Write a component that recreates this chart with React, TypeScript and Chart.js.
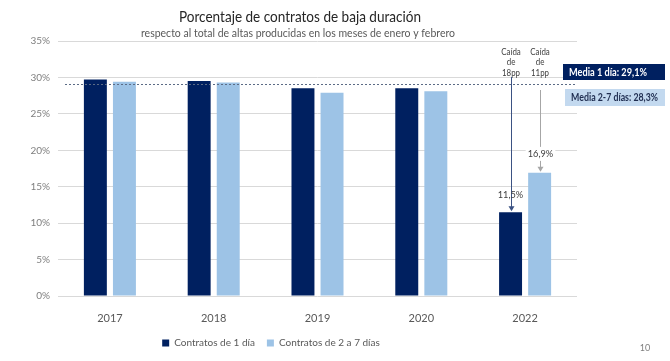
import React, { useEffect, useRef } from 'react';
import { Chart, registerables } from 'chart.js';

Chart.register(...registerables);

const years = ['2017', '2018', '2019', '2020', '2022'];
const contratos1Dia = [29.7, 29.5, 28.5, 28.5, 11.5];
const contratos2a7Dias = [29.4, 29.3, 27.9, 28.1, 16.9];
const seriesNames = ['Contratos de 1 día', 'Contratos de 2 a 7 días'];
const mediaValues = [29.1, 28.3];
const mediaLabels = ['Media 1 día: 29,1%', 'Media 2-7 días: 28,3%'];
const caidaLabels = [['Caída', 'de', '18pp'], ['Caída', 'de', '11pp']];
const valueLabels = ['11,5%', '16,9%'];
const titleText = 'Porcentaje de contratos de baja duración';
const subtitleText = 'respecto al total de altas producidas en los meses de enero y febrero';
const pageNumber = '10';

const DARK = '#002060';
const LIGHT = '#9dc3e6';
const FONT = 'Lato, "Open Sans", sans-serif';

function fitText(ctx: CanvasRenderingContext2D, text: string, x: number, y: number, width: number, align: 'left' | 'center') {
  const w = ctx.measureText(text).width;
  const sx = Math.min(1, width / w);
  ctx.save();
  ctx.translate(x, y);
  ctx.scale(sx, 1);
  ctx.textAlign = align;
  ctx.fillText(text, 0, 0);
  ctx.restore();
}

function arrow(ctx: CanvasRenderingContext2D, x: number, y0: number, y1: number, color: string) {
  ctx.save();
  ctx.strokeStyle = color;
  ctx.fillStyle = color;
  ctx.lineWidth = 1;
  ctx.beginPath();
  ctx.moveTo(x, y0);
  ctx.lineTo(x, y1 - 4);
  ctx.stroke();
  ctx.beginPath();
  ctx.moveTo(x - 3, y1 - 5);
  ctx.lineTo(x + 3, y1 - 5);
  ctx.lineTo(x, y1);
  ctx.closePath();
  ctx.fill();
  ctx.restore();
}

const annotations = {
  id: 'annotations',
  afterLayout(chart: any) {
    if (chart.legend) {
      chart.legend.left = 0;
      chart.legend.right = 542;
    }
  },
  afterDatasetsDraw(chart: any) {
    const ctx: CanvasRenderingContext2D = chart.ctx;
    const y = chart.scales.y;
    const area = chart.chartArea;
    const ym = Math.round(y.getPixelForValue(mediaValues[0])) + 0.5;
    ctx.save();
    ctx.setLineDash([2, 2]);
    ctx.strokeStyle = '#5b6b85';
    ctx.lineWidth = 1;
    ctx.beginPath();
    ctx.moveTo(area.left + 7, ym);
    ctx.lineTo(area.right - 2, ym);
    ctx.stroke();
    ctx.restore();

    const last = years.length - 1;
    const b0 = chart.getDatasetMeta(0).data[last];
    const b1 = chart.getDatasetMeta(1).data[last];

    ctx.save();
    ctx.font = `9px ${FONT}`;
    ctx.fillStyle = '#404040';
    ctx.textBaseline = 'middle';
    [b0, b1].forEach((b: any, k: number) => {
      caidaLabels[k].forEach((t, j) => {
        const w = ctx.measureText(t).width * 0.88;
        fitText(ctx, t, Math.round(b.x), 52 + j * 10.5, w, 'center');
      });
    });
    ctx.restore();

    const x1 = Math.round(b1.x) + 0.5;
    arrow(ctx, x1, 90, b1.y - 1, '#a6a6a6');
    ctx.save();
    ctx.font = `10px ${FONT}`;
    ctx.textBaseline = 'middle';
    const w1 = ctx.measureText(valueLabels[1]).width;
    ctx.fillStyle = '#ffffff';
    ctx.fillRect(x1 - w1 / 2 - 1, b1.y - 26, w1 + 2, 14);
    ctx.fillStyle = '#404040';
    fitText(ctx, valueLabels[1], x1, b1.y - 19, w1 * 0.92, 'center');
    ctx.restore();

    const x0 = Math.round(b0.x) + 0.5;
    arrow(ctx, x0, 77, b0.y - 1, '#3b5283');
    ctx.save();
    ctx.font = `10px ${FONT}`;
    ctx.textBaseline = 'middle';
    ctx.fillStyle = '#404040';
    const w0 = ctx.measureText(valueLabels[0]).width;
    fitText(ctx, valueLabels[0], x0 - 1, b0.y - 17, w0 * 0.92, 'center');
    ctx.restore();
  },
  afterDraw(chart: any) {
    const ctx: CanvasRenderingContext2D = chart.ctx;
    ctx.save();
    ctx.textBaseline = 'middle';
    ctx.fillStyle = '#262626';
    ctx.font = `15px ${FONT}`;
    fitText(ctx, titleText, 300, 17, 242, 'center');
    ctx.fillStyle = '#595959';
    ctx.font = `11.5px ${FONT}`;
    fitText(ctx, subtitleText, 298, 33, 314, 'center');

    ctx.fillStyle = DARK;
    ctx.fillRect(563, 64, 102, 16);
    ctx.fillStyle = '#c3d9ef';
    ctx.fillRect(565, 89, 100, 17);
    ctx.font = `bold 10.5px ${FONT}`;
    ctx.fillStyle = '#ffffff';
    fitText(ctx, mediaLabels[0], 569, 72.5, 78, 'left');
    ctx.fillStyle = '#1f2d50';
    fitText(ctx, mediaLabels[1], 571, 98, 87, 'left');

    ctx.font = `9px ${FONT}`;
    ctx.fillStyle = '#7f7f7f';
    fitText(ctx, pageNumber, 645, 348, 20, 'center');
    ctx.restore();
  },
};

export default function App() {
  const ref = useRef<HTMLCanvasElement>(null);
  useEffect(() => {
    if (!ref.current) return;
    const chart = new Chart(ref.current, {
      type: 'bar',
      data: {
        labels: years,
        datasets: [
          { label: seriesNames[0], data: contratos1Dia, backgroundColor: DARK },
          { label: seriesNames[1], data: contratos2a7Dias, backgroundColor: LIGHT },
        ],
      },
      options: {
        responsive: false,
        animation: false,
        events: [],
        datasets: { bar: { categoryPercentage: 0.56, barPercentage: 0.79 } },
        layout: { padding: { top: 41, left: 0, right: 93, bottom: 3 } },
        scales: {
          x: {
            grid: { display: false },
            border: { display: false },
            ticks: { color: '#595959', font: { family: FONT, size: 11 }, padding: 8 },
            afterFit: (s: any) => { s.height = 30; },
          },
          y: {
            min: 0,
            max: 35,
            ticks: {
              stepSize: 5,
              color: '#7f7f7f',
              font: { family: FONT, size: 10 },
              padding: 8,
              callback: (v: any) => `${v}%`,
            },
            grid: { color: '#d9d9d9', drawTicks: false },
            border: { display: false },
            afterFit: (s: any) => { s.width = 58; },
          },
        },
        plugins: {
          title: { display: false },
          tooltip: { enabled: false },
          legend: {
            position: 'bottom',
            labels: {
              boxWidth: 7,
              boxHeight: 7,
              padding: 12,
              color: '#595959',
              font: { family: FONT, size: 10 },
            },
          },
        },
      },
      plugins: [annotations],
    } as any);
    return () => chart.destroy();
  }, []);
  return (
    <div style={{ position: 'fixed', left: 0, top: 0, width: 670, height: 361, background: '#fff' }}>
      <canvas ref={ref} width={670} height={361} style={{ display: 'block' }} />
    </div>
  );
}
